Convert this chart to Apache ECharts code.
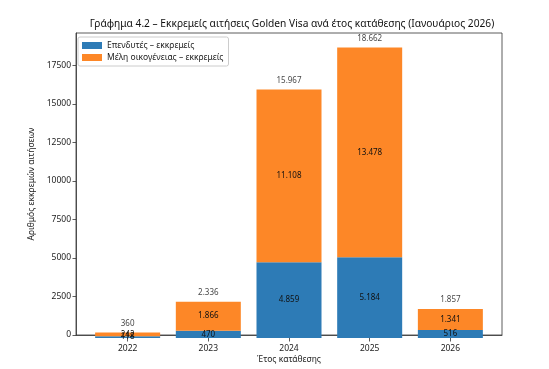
<!DOCTYPE html>
<html><head><meta charset="utf-8">
<script src="https://cdn.jsdelivr.net/npm/echarts@6/dist/echarts.min.js"></script>
<style>html,body{margin:0;padding:0;background:#fff}#c{width:549px;height:369px}</style>
</head><body><div id="c"></div>
<script>
const years = ['2022','2023','2024','2025','2026'];
const investors = [118, 470, 4859, 5184, 516];
const family = [242, 1866, 11108, 13478, 1341];
const totals = [360, 2336, 15967, 18662, 1857];
const yTicks = [0, 2500, 5000, 7500, 10000, 12500, 15000, 17500];
const yMax = 19595;

const FONT = 'Noto Sans';
const fmt = v => String(v).replace(/\B(?=(\d{3})+(?!\d))/g, '.');
const TXT = '#222';

const chart = echarts.init(document.getElementById('c'), null, {renderer: 'canvas'});
chart.setOption({
  animation: false,
  textStyle: {fontFamily: FONT},
  title: {
    text: 'Γράφημα 4.2 – Εκκρεμείς αιτήσεις Golden Visa ανά έτος κατάθεσης (Ιανουάριος 2026)',
    left: 287, top: 14, textAlign: 'center',
    textStyle: {fontFamily: FONT, fontSize: 10.2, fontWeight: 'normal', color: '#111'}
  },
  legend: {
    left: 78, top: 37, orient: 'vertical', itemWidth: 20, itemHeight: 7, itemGap: 3,
    padding: [4, 5, 4, 4],
    borderColor: '#ccc', borderWidth: 1, borderRadius: 2,
    icon: 'rect',
    textStyle: {fontFamily: FONT, fontSize: 8.5, color: TXT},
    data: ['Επενδυτές – εκκρεμείς', 'Μέλη οικογένειας – εκκρεμείς']
  },
  grid: [
    {left: 76, right: 47, top: 33, bottom: 31, show: true, borderColor: '#333', borderWidth: 0.8, containLabel: false},
    {left: 87.3, right: 58.3, top: 33, bottom: 31, containLabel: false}
  ],
  xAxis: [
    {
      gridIndex: 0, type: 'value', min: 0, max: 1,
      name: 'Έτος κατάθεσης', nameLocation: 'middle', nameGap: 20,
      nameTextStyle: {fontFamily: FONT, fontSize: 8.5, color: TXT},
      axisLine: {show: true, lineStyle: {color: '#333', width: 0.8}},
      axisTick: {show: false}, axisLabel: {show: false}, splitLine: {show: false}
    },
    {
      gridIndex: 1, type: 'category', data: years, boundaryGap: true,
      axisLine: {show: false},
      axisTick: {show: true, alignWithLabel: true, length: 3.5, lineStyle: {color: '#333', width: 0.8}},
      axisLabel: {fontFamily: FONT, fontSize: 8.5, color: TXT, margin: 6},
      splitLine: {show: false}
    }
  ],
  yAxis: [
    {
      gridIndex: 0, type: 'value', min: 0, max: yMax,
      name: 'Αριθμός εκκρεμών αιτήσεων', nameLocation: 'middle', nameGap: 38, nameRotate: 90,
      nameTextStyle: {fontFamily: FONT, fontSize: 8.5, color: TXT},
      axisLine: {show: true, lineStyle: {color: '#333', width: 0.8}},
      axisTick: {show: true, customValues: yTicks, length: 3.5, lineStyle: {color: '#333', width: 0.8}},
      axisLabel: {customValues: yTicks, formatter: v => String(v), fontFamily: FONT, fontSize: 8.5, color: TXT, margin: 5},
      splitLine: {show: false}
    },
    {
      gridIndex: 1, type: 'value', min: 0, max: yMax, show: false, splitLine: {show: false}
    }
  ],
  series: [
    {
      name: 'Επενδυτές – εκκρεμείς', type: 'bar', stack: 'a', barWidth: 65,
      xAxisIndex: 1, yAxisIndex: 1,
      itemStyle: {color: '#2d7bb6'},
      data: investors,
      label: {show: true, position: 'inside', formatter: p => fmt(p.value), fontFamily: FONT, fontSize: 8, color: '#111'}
    },
    {
      name: 'Μέλη οικογένειας – εκκρεμείς', type: 'bar', stack: 'a', barWidth: 65,
      xAxisIndex: 1, yAxisIndex: 1,
      itemStyle: {color: '#fd8727'},
      data: family,
      label: {show: true, position: 'inside', formatter: p => fmt(p.value), fontFamily: FONT, fontSize: 8, color: '#111'}
    },
    {
      name: 'total', type: 'scatter', symbolSize: 0,
      xAxisIndex: 1, yAxisIndex: 1,
      data: totals,
      label: {show: true, position: 'top', distance: 5, formatter: p => fmt(p.value), fontFamily: FONT, fontSize: 8, color: '#111'}
    }
  ]
});
</script></body></html>
